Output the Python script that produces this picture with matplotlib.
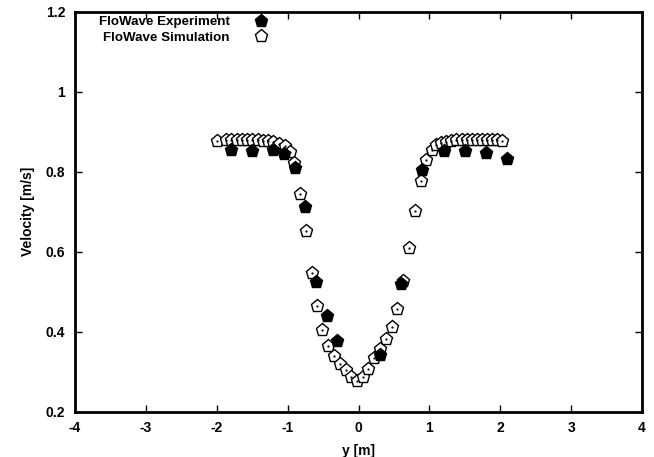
import matplotlib
matplotlib.use("Agg")
import matplotlib.pyplot as plt
from matplotlib.lines import Line2D

plt.rcParams['font.family'] = ['Liberation Sans', 'DejaVu Sans']
plt.rcParams['font.weight'] = 'bold'

# Measured velocity across the channel
exp_y = [-1.8, -1.5, -1.2, -1.05, -0.9, -0.75, -0.6, -0.45, -0.3,
         0.3, 0.6, 0.9, 1.2, 1.5, 1.8, 2.1]
exp_vel = [0.853, 0.852, 0.855, 0.843, 0.808, 0.711, 0.524, 0.439, 0.376,
           0.341, 0.520, 0.803, 0.851, 0.852, 0.847, 0.832]

# Simulated velocity profile
sim_y = [-2.00, -1.87, -1.80, -1.72, -1.65, -1.57, -1.50, -1.42, -1.35, -1.27,
         -1.20, -1.12, -1.04, -0.97, -0.91, -0.83, -0.74, -0.66, -0.58, -0.51,
         -0.43, -0.34, -0.26, -0.18, -0.10, -0.02, 0.065, 0.14, 0.22, 0.30,
         0.39, 0.47, 0.55, 0.63, 0.71, 0.795, 0.876, 0.95, 1.03, 1.10,
         1.17, 1.24, 1.31, 1.38, 1.46, 1.53, 1.60, 1.67, 1.74, 1.81,
         1.88, 1.95, 2.02]
sim_vel = [0.877, 0.879, 0.879, 0.879, 0.879, 0.879, 0.878, 0.878, 0.877, 0.876,
           0.874, 0.870, 0.864, 0.849, 0.822, 0.745, 0.651, 0.546, 0.465, 0.403,
           0.363, 0.338, 0.319, 0.303, 0.286, 0.276, 0.286, 0.307, 0.333, 0.357,
           0.382, 0.411, 0.457, 0.526, 0.610, 0.701, 0.776, 0.830, 0.855, 0.866,
           0.872, 0.875, 0.877, 0.878, 0.879, 0.879, 0.879, 0.879, 0.879, 0.879,
           0.879, 0.878, 0.877]

x_ticks = [-4, -3, -2, -1, 0, 1, 2, 3, 4]
y_ticks = [0.2, 0.4, 0.6, 0.8, 1.0, 1.2]
y_tick_labels = ['0.2', '0.4', '0.6', '0.8', '1', '1.2']

fig = plt.figure(figsize=(6.54, 4.57), dpi=100)
ax = fig.add_axes([75 / 654, 1 - 411.5 / 457, 567 / 654, 400 / 457])

ms = 9.5
# Simulation: open pentagons with a small centre dot
ax.plot(sim_y, sim_vel, linestyle='none', marker='p', markersize=ms,
        markerfacecolor='white', markeredgecolor='black', markeredgewidth=1.0,
        zorder=3)
ax.plot(sim_y, sim_vel, linestyle='none', marker='.', markersize=1.2,
        color='black', zorder=3.1)
# Experiment: filled pentagons
ax.plot(exp_y, exp_vel, linestyle='none', marker='p', markersize=ms,
        markerfacecolor='black', markeredgecolor='black', zorder=4)

ax.set_xlim(-4, 4)
ax.set_ylim(0.2, 1.2)
ax.set_xticks(x_ticks)
ax.set_xticklabels([str(t) for t in x_ticks])
ax.set_yticks(y_ticks)
ax.set_yticklabels(y_tick_labels)

for s in ax.spines.values():
    s.set_linewidth(2.0)
ax.tick_params(direction='in', length=5, width=1.0, top=True, right=True,
               labelsize=10, pad=7)

ax.set_xlabel('y [m]', fontsize=10, fontweight='bold', labelpad=6)
ax.set_ylabel('Velocity [m/s]', fontsize=10, fontweight='bold', labelpad=8)

handles = [
    Line2D([], [], linestyle='none', marker='p', markersize=ms,
           markerfacecolor='black', markeredgecolor='black'),
    Line2D([], [], linestyle='none', marker='p', markersize=ms,
           markerfacecolor='white', markeredgecolor='black'),
]
leg = ax.legend(handles, ['FloWave Experiment', 'FloWave Simulation'],
                loc='upper left', bbox_to_anchor=(0.025, 1.012), frameon=False,
                markerfirst=False, fontsize=9.6, handlelength=1.2,
                handletextpad=1.8, labelspacing=0.25, borderaxespad=0.3)
for t in leg.get_texts():
    t.set_fontweight('bold')

fig.savefig('out.png', dpi=100)
